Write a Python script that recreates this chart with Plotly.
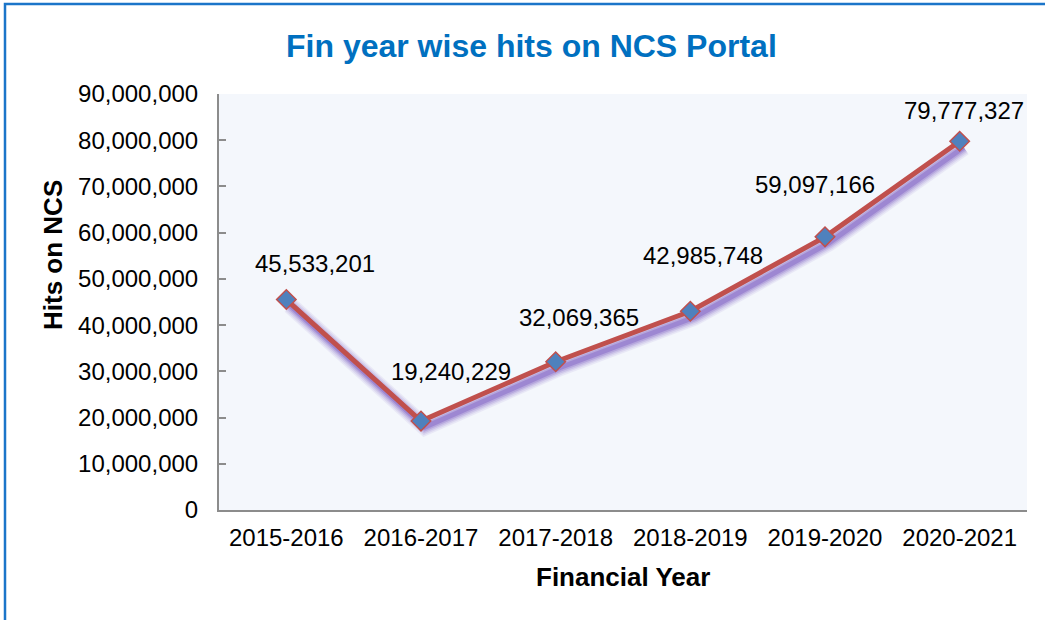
import plotly.graph_objects as go

# ---- data ----
years = ["2015-2016", "2016-2017", "2017-2018", "2018-2019", "2019-2020", "2020-2021"]
hits = [45533201, 19240229, 32069365, 42985748, 59097166, 79777327]

# label offsets (pixels, right / up) – layout only
label_dx = [29, 30, 23, 13, -10, 4]
label_dy = [36, 50, 44, 56, 52, 31]

W, H = 1045, 620
ML, MR, MT, MB = 219, 14, 94, 104
PW = W - ML - MR
PH = H - MT - MB
SDX, SDY = 4, 6  # shadow offset in px

def px_x(p):
    return (p - ML) / PW

def px_y(p):
    return (H - MB - p) / PH

FONT = "Liberation Sans, Arial, sans-serif"

fig = go.Figure()

# shadow traces (drawn first, on shifted hidden axes)
for w, op in [(17, 0.08), (14, 0.10), (11, 0.14), (8, 0.2), (5, 0.3)]:
    fig.add_trace(go.Scatter(
        x=years, y=hits, mode="lines", xaxis="x", yaxis="y",
        line=dict(color="rgb(105,65,185)", width=w), opacity=op,
        hoverinfo="skip", showlegend=False,
    ))

# main line
fig.add_trace(go.Scatter(
    x=years, y=hits, mode="lines+markers", xaxis="x2", yaxis="y2",
    line=dict(color="#C0504D", width=5),
    marker=dict(symbol="diamond", size=15, color="#4F81BD",
                line=dict(color="#C0504D", width=1.5)),
    showlegend=False,
))

annotations = []
for yr, v, dx, dy in zip(years, hits, label_dx, label_dy):
    annotations.append(dict(
        x=yr, y=v, xref="x2", yref="y2", text=f"{v:,}", showarrow=False,
        xshift=dx, yshift=dy, font=dict(family=FONT, size=24, color="#000000"),
        xanchor="center", yanchor="middle",
    ))

annotations += [
    dict(text="<b>Fin year wise hits on NCS Portal</b>", xref="paper", yref="paper",
         x=px_x(531), y=px_y(46), showarrow=False, xanchor="center", yanchor="middle",
         font=dict(family=FONT, size=32, color="#0070C0")),
    dict(text="<b>Hits on NCS</b>", xref="paper", yref="paper", textangle=-90,
         x=px_x(53), y=px_y(255), showarrow=False, xanchor="center", yanchor="middle",
         font=dict(family=FONT, size=26, color="#000000")),
    dict(text="<b>Financial Year</b>", xref="paper", yref="paper",
         x=px_x(622.5), y=px_y(577), showarrow=False, xanchor="center", yanchor="middle",
         font=dict(family=FONT, size=26, color="#000000")),
]

shapes = [
    # plot background
    dict(type="rect", xref="paper", yref="paper", layer="below",
         x0=0, x1=(PW - SDX) / PW, y0=SDY / PH, y1=1,
         fillcolor="#F4F7FC", line=dict(width=0)),
    # outer chart border
    dict(type="rect", xref="paper", yref="paper", layer="above",
         x0=px_x(5), x1=px_x(W + 20), y0=px_y(H + 20), y1=px_y(4),
         fillcolor="rgba(0,0,0,0)", line=dict(color="#1B75C9", width=2.5)),
]

fig.update_layout(
    width=W, height=H,
    margin=dict(l=ML, r=MR, t=MT, b=MB),
    paper_bgcolor="white", plot_bgcolor="rgba(0,0,0,0)",
    showlegend=False,
    font=dict(family=FONT, color="#000000"),
    xaxis=dict(domain=[SDX / PW, 1], range=[-0.5, 5.5], type="category",
               visible=False, anchor="y", fixedrange=True),
    yaxis=dict(domain=[0, 1 - SDY / PH], range=[0, 90000000],
               visible=False, anchor="x", fixedrange=True),
    xaxis2=dict(domain=[0, 1 - SDX / PW], range=[-0.5, 5.5], type="category",
                anchor="y2", showline=True, linecolor="#8C8C8C", linewidth=2,
                ticks="", showgrid=False, zeroline=False,
                tickfont=dict(family=FONT, size=24, color="#000000"),
                ticklabelstandoff=5),
    yaxis2=dict(domain=[SDY / PH, 1], range=[0, 90000000], dtick=10000000,
                tickformat=",", anchor="x2", showline=True, linecolor="#8C8C8C",
                linewidth=2, ticks="inside", ticklen=7, tickcolor="#8C8C8C",
                tickwidth=2, showgrid=False, zeroline=False,
                tickfont=dict(family=FONT, size=24, color="#000000"),
                ticklabelstandoff=14),
    annotations=annotations,
    shapes=shapes,
)

fig.write_html(
    "out.html",
    config={"displayModeBar": False},
    post_script="document.body.style.margin='0';document.body.style.overflow='hidden';",
)
